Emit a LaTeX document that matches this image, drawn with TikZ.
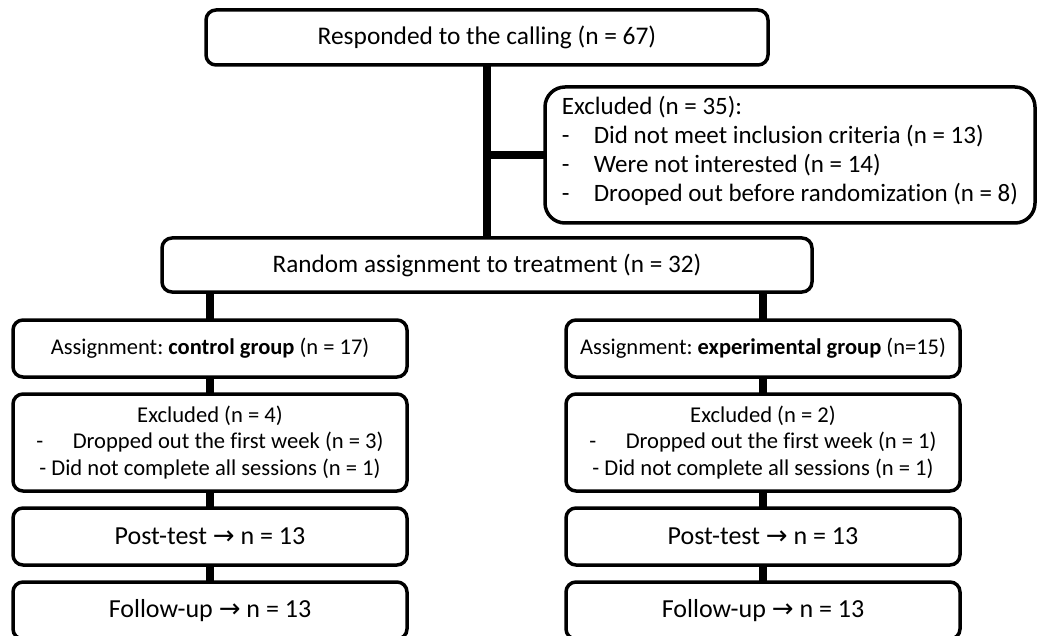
\documentclass[tikz,border=0pt]{standalone}
\usepackage{fontspec}
\setmainfont{Carlito}[Ligatures=NoCommon]
\newfontfamily\arrowfont{DejaVu Sans}
\usepackage{tikz}
\usetikzlibrary{positioning}
\frenchspacing
\newcommand{\thenArrow}{{\arrowfont →}}
\tikzset{%
  % Styles of the boxes and links:
            base/.style = {rectangle, rounded corners=10pt, draw=black,
                           line width=3.5pt, fill=white, inner sep=0pt,
                           outer sep=0pt, align=center,
                           font=\fontsize{25.4}{29}\selectfont},
            headBox/.style = {base, minimum width=562pt, minimum height=55pt},
            randBox/.style = {base, minimum width=650pt, minimum height=54pt,
                              font=\fontsize{25.2}{29}\selectfont},
            exclBox/.style = {base, rounded corners=20pt, minimum height=136pt,
                              minimum width=490pt, align=left,
                              font=\fontsize{25}{29}\selectfont},
            groupBox/.style = {base, minimum width=394pt, minimum height=57pt,
                               font=\fontsize{22.5}{26.5}\selectfont},
            dropBox/.style = {groupBox, minimum height=97pt,
                              font=\fontsize{22.6}{26.5}\selectfont},
            stepBox/.style = {groupBox, font=\fontsize{26}{29}\selectfont},
            link/.style = {line width=7.5pt},
 }
\newcommand{\exclItem}[1]{\makebox[32pt][l]{-}#1}

\begin{document}
\begin{tikzpicture}[x=1pt, y=-1pt, node distance=17pt]
  \useasboundingbox (0,0) rectangle (1038,636);
  % Specification of nodes (position, etc.)
     \node (calling) [headBox] at (487,37.5) {Responded to the calling (n = 67)};
     \node (random) [randBox, below=173pt of calling] {Random assignment to treatment (n = 32)};
     \node (excluded) [exclBox] at (790,155) {Excluded (n = 35):\\
        \exclItem{Did not meet inclusion criteria (n = 13)}\\
        \exclItem{Were not interested (n = 14)}\\
        \exclItem{Drooped out before randomization (n = 8)}\rule[-13pt]{0pt}{13pt}};

     \node (control) [groupBox] at (210,348.5) {Assignment: \textbf{control group} (n = 17)};
     \node (dropC) [dropBox, below=of control] {Excluded (n = 4)\\
        -\hspace{1.3em}Dropped out the first week (n = 3)\\
        - Did not complete all sessions (n = 1)};
     \node (postC) [stepBox, below=of dropC] {Post-test \thenArrow{} n = 13};
     \node (followC) [stepBox, below=of postC] {Follow-up \thenArrow{} n = 13};

     \node (experim) [groupBox] at (763,348.5) {Assignment: \textbf{experimental group} (n=15)};
     \node (dropE) [dropBox, below=of experim] {Excluded (n = 2)\\
        -\hspace{1.3em}Dropped out the first week (n = 1)\\
        - Did not complete all sessions (n = 1)};
     \node (postE) [stepBox, below=of dropE] {Post-test \thenArrow{} n = 13};
     \node (followE) [stepBox, below=of postE] {Follow-up \thenArrow{} n = 13};

     \draw[link] (calling.south) -- (random.north);
     \draw[link] (excluded.west) -- (excluded.west -| calling.south);

     \draw[link] (random.south -| control.north) -- (control.north);
     \draw[link] (random.south -| experim.north) -- (experim.north);

     \draw[link] (control.south) -- (dropC.north);
     \draw[link] (dropC.south) -- (postC.north);
     \draw[link] (postC.south) -- (followC.north);

     \draw[link] (experim.south) -- (dropE.north);
     \draw[link] (dropE.south) -- (postE.north);
     \draw[link] (postE.south) -- (followE.north);

   \end{tikzpicture}
\end{document}
